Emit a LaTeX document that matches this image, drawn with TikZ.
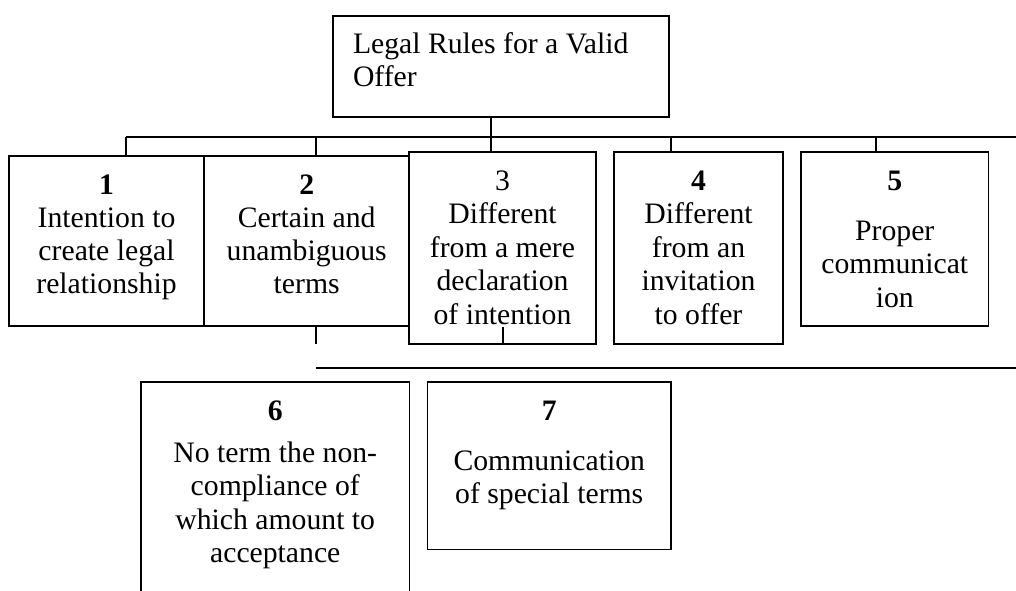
\documentclass[tikz,border=0pt]{standalone}
\usepackage{fontspec}
\setmainfont{Liberation Serif}
\newcommand\boxlines[1]{\parbox[t]{280pt}{\centering #1}}
\begin{document}
\begin{tikzpicture}[x=1pt,y=-1pt,line width=1.8pt,
  box/.style={draw,rectangle,inner sep=0pt,outer sep=0pt},
  lbl/.style={anchor=base,inner sep=0pt,outer sep=0pt,font=\fontsize{29.7}{33.5}\selectfont},
  conn/.style={draw,line width=1.8pt}]
\useasboundingbox (0,0) rectangle (1016,590);
% boxes
\node[box,minimum width=336pt,minimum height=101pt] (top) at (501,66.5) {};
\node[box,minimum width=195pt,minimum height=170pt] (b1) at (106.5,241) {};
\node[box,minimum width=205pt,minimum height=170pt] (b2) at (306.5,241) {};
\node[box,minimum width=187pt,minimum height=192pt] (b3) at (502.5,248) {};
\node[box,minimum width=169pt,minimum height=192pt] (b4) at (698.5,248) {};
\node[box,minimum width=187.5pt,minimum height=174pt] (b5) at (894.75,239) {};
\node[box,minimum width=268.5pt,minimum height=218pt] (b6) at (275.25,491) {};
\node[box,minimum width=243.5pt,minimum height=167.5pt] (b7) at (549.25,465.75) {};
% texts
\node[lbl,anchor=base west] (ttop) at (353,53) {\parbox[t]{310pt}{\raggedright Legal Rules for a Valid\\Offer}};
\node[lbl] (t1) at (106.5,194) {\boxlines{\textbf{1}\\[-0.5pt]Intention to\\[-0.5pt]create legal\\[-0.5pt]relationship}};
\node[lbl] (t2) at (306.7,194) {\boxlines{\textbf{2}\\[-0.5pt]Certain and\\[-0.5pt]unambiguous\\[-0.5pt]terms}};
\node[lbl] (t3) at (502.5,190) {\boxlines{3\\Different\\from a mere\\declaration\\of intention}};
\node[lbl] (t4) at (698.5,190) {\boxlines{\textbf{4}\\Different\\from an\\invitation\\to offer}};
\node[lbl] (t5) at (894.75,190) {\boxlines{\textbf{5}\\[16.5pt]Proper\\communicat\\ion}};
\node[lbl] (t6) at (275.25,420) {\boxlines{\textbf{6}\\[8.5pt]No term the non-\\compliance of\\which amount to\\acceptance}};
\node[lbl] (t7) at (549.25,420) {\boxlines{\textbf{7}\\[16.5pt]Communication\\of special terms}};
% connectors upper
\coordinate (busL) at (126,137);
\coordinate (busR) at (1016,137);
\coordinate (d2) at (316,137);
\coordinate (d3) at (490.7,137);
\coordinate (d4) at (670.7,137);
\coordinate (d5) at (876,137);
\draw[conn] (busL) -- (busR);
\draw[conn] (busL) -- (busL |- b1.north);
\draw[conn] (d2) -- (d2 |- b2.north);
\draw[conn] (d3 |- top.south) -- (d3 |- b3.north);
\draw[conn] (d4) -- (d4 |- b4.north);
\draw[conn] (d5) -- (d5 |- b5.north);
% connectors lower
\coordinate (lowL) at (316,368.3);
\coordinate (lowR) at (1016,368.3);
\coordinate (e3) at (502.7,326.7);
\draw[conn] (lowL |- b2.south) -- ++(0,18);
\draw[conn] (e3) -- (e3 |- b3.south);
\draw[conn] (lowL) -- (lowR);
\end{tikzpicture}
\end{document}
